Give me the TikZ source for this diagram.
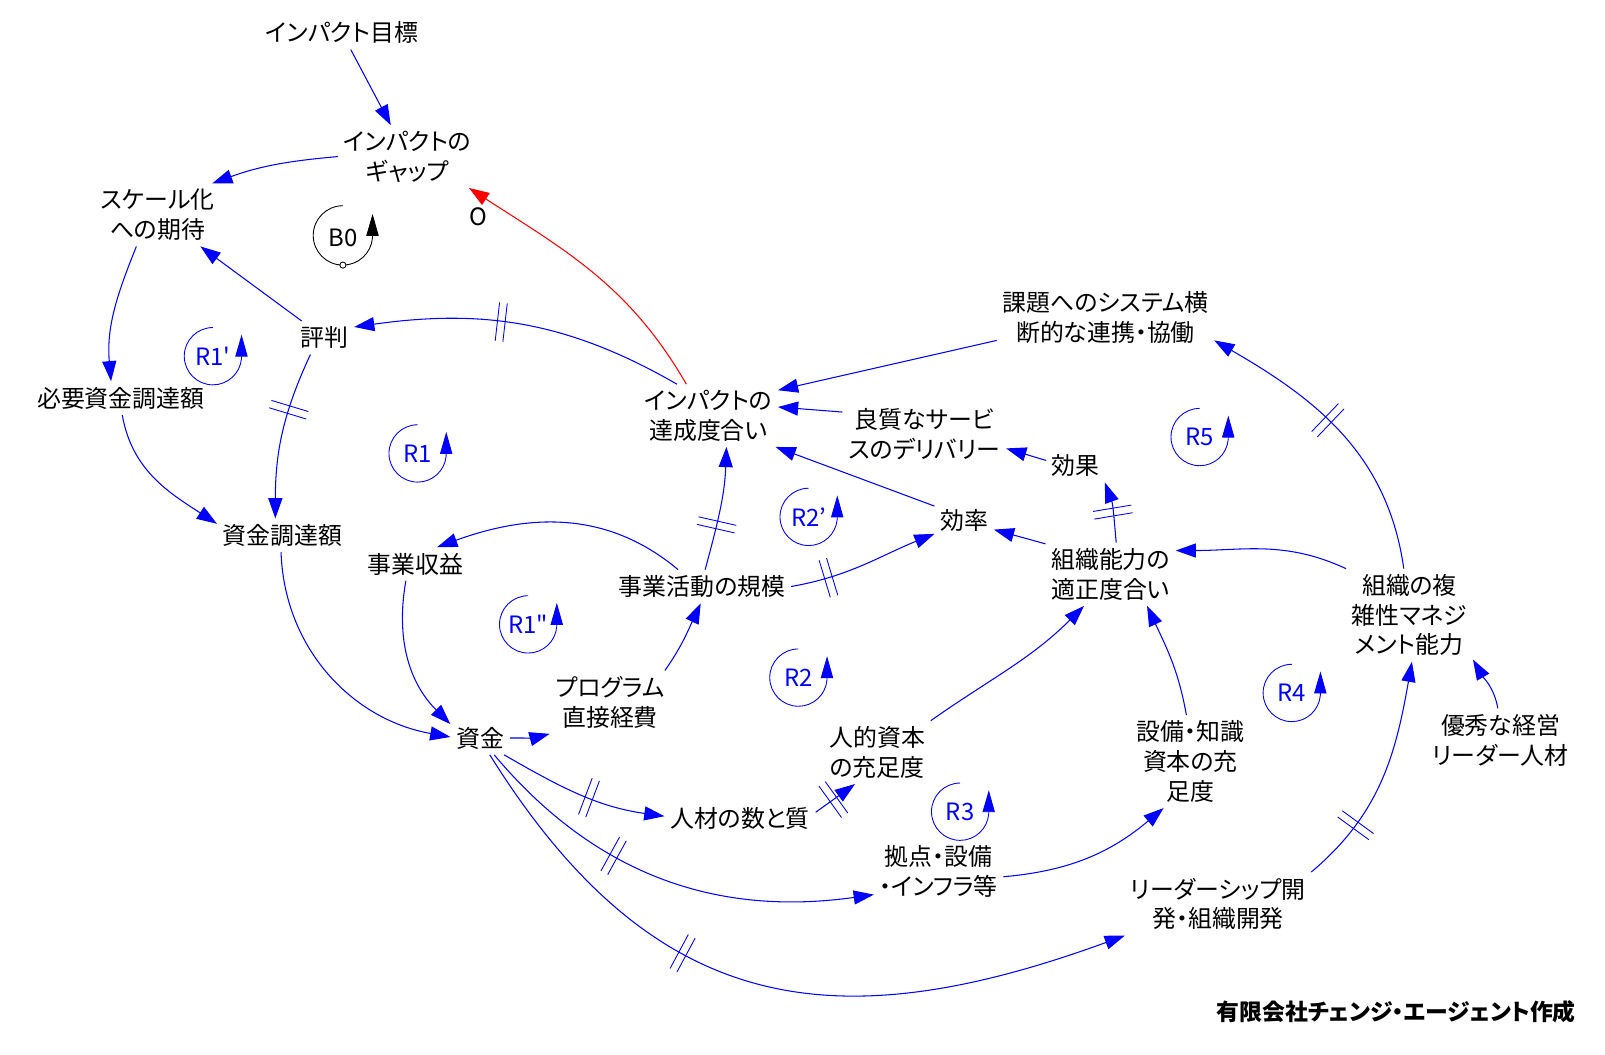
\documentclass[tikz,border=0pt]{standalone}
\usepackage{fontspec}
\newfontfamily\jp{Noto Sans CJK JP}[RawFeature=+palt]
\usetikzlibrary{arrows.meta,decorations.markings}
\newcommand\cldfont{\jp\fontsize{13.6pt}{16.9pt}\selectfont}

\begin{document}
\begin{tikzpicture}[
                    x=0.02047cm, y=0.02047cm,
                    ->,
                    >={Triangle[length=11.5pt,width=8pt]},
                    line width=0.6pt,
                    var/.style={font=\cldfont, align=center, inner sep=3pt},
                    every edge/.style={draw, blue},
                    delaymark/.style={postaction={decorate, decoration={markings,
                        mark=at position #1 with {\draw[-, line width=0.5pt] (-2.2pt,-11pt) -- (-2.2pt,11pt) (2.2pt,-11pt) -- (2.2pt,11pt);}}}},
                    looparrow/.style={blue, line width=0.5pt, -{Triangle[length=12.5pt,width=7pt]}},
                    looplbl/.style={font=\cldfont, text=blue, inner sep=0pt}
                ]
                \path[-, use as bounding box, fill=white] (0,0) rectangle (1568,1030);

                % variables
                \node[var] (target) at (334,998) {インパクト目標};
                \node[var] (gap) at (398,877) {インパクトの\\ギャップ};
                \node[var] (scale) at (154,820) {スケール化\\への期待};
                \node[var] (rep) at (317,700) {評判};
                \node[var] (need) at (118,641) {必要資金調達額};
                \node[var] (achieve) at (692,624) {インパクトの\\達成度合い};
                \node[var] (collab) at (1080,720) {課題へのシステム横\\断的な連携・協働};
                \node[var] (service) at (903,606) {良質なサービ\\スのデリバリー};
                \node[var] (effect) at (1051,575) {効果};
                \node[var] (effic) at (942,522) {効率};
                \node[var] (raise) at (276,507) {資金調達額};
                \node[var] (revenue) at (406,479) {事業収益};
                \node[var] (orgcap) at (1085,469) {組織能力の\\適正度合い};
                \node[var] (complex) at (1377,429) {組織の複\\雑性マネジ\\メント能力};
                \node[var] (activity) at (686,457) {事業活動の規模};
                \node[var] (program) at (596,344) {プログラム\\直接経費};
                \node[var] (leader) at (1466,307) {優秀な経営\\リーダー人材};
                \node[var] (funds) at (469,309) {資金};
                \node[var] (human) at (857,295) {人的資本\\の充足度};
                \node[var] (facility) at (1163,286) {設備・知識\\資本の充\\足度};
                \node[var] (staff) at (723,230) {人材の数と質};
                \node[var] (base) at (917,179) {拠点・設備\\・インフラ等};
                \node[var] (dev) at (1190,147) {リーダーシップ開\\発・組織開発};
                \node[var, font=\jp\fontsize{13pt}{16pt}\selectfont\bfseries] (credit) at (1364,42) {有限会社チェンジ・エージェント作成};
                \node[var] (pol) at (467,818) {O};

                % loops
                \node[font=\cldfont, inner sep=0pt] (b0) at (335,798) {B0};
                \draw[looparrow, black] (335,829) arc[start angle=90, end angle=355, x radius=29, y radius=29] -- (364,821);
                \draw[-, black, fill=white, line width=0.5pt] (335,771) circle[radius=3];
                \foreach \nm/\lbl/\cx/\cy in {r1a/{R1'}/208/682, r1/R1/408/587, r1b/{R1"}/516/420, r2a/{R2’}/790/525,
                                              r2/R2/780/368, r3/R3/938/237, r4/R4/1262/353, r5/R5/1172/603}
                {
                    \node[looplbl] (\nm) at (\cx,\cy) {\lbl};
                    \draw[looparrow] (\cx,\cy+28) arc[start angle=90, end angle=355, x radius=28, y radius=28] -- (\cx+28,\cy+21);
                }

                % links
                \path
                (target) edge (gap)
                (gap.west) edge[out=185, in=20] (scale.30)
                (rep) edge (scale)
                (scale.236) edge[out=248, in=95] (need.120)
                (need.-85) edge[out=-80, in=147] (raise.170)
                (rep.-130) edge[out=245, in=90, delaymark=0.35] (raise.113)
                (raise.-95) edge[out=-88, in=170] (funds.178)
                (revenue.-120) edge[out=260, in=135] (funds.155)
                (funds.east) edge[out=0, in=195] (program.south west)
                (program.30) edge[out=55, in=-115] (activity.-95)
                (activity.145) edge[out=140, in=20] (revenue.38)
                (activity.80) edge[out=75, in=-92, delaymark=0.37] (achieve.-60)
                (activity.east) edge[out=10, in=-158, delaymark=0.25] (effic.-155)
                (effic.155) edge (achieve.-25)
                (achieve.135) edge[out=150, in=8, delaymark=0.56] (rep.20)
                (achieve.125) edge[red, out=120, in=-33] (gap.-27)
                (collab.-168) edge (achieve.20)
                (service.165) edge (achieve.7)
                (effect.170) edge (service.-10)
                (orgcap.80) edge[out=95, in=-70, delaymark=0.5] (effect.-30)
                (orgcap.155) edge (effic.-18)
                (complex.north west) edge[out=155, in=0] (orgcap.20)
                (complex.97) edge[out=98, in=-30, delaymark=0.55] (collab.-12)
                (leader.95) edge[out=100, in=-60] (complex.-35)
                (dev.north east) edge[out=40, in=-100, delaymark=0.27] (complex.-87)
                (funds.-60) edge[out=-58, in=200, looseness=1.2, delaymark=0.38] (dev.south west)
                (funds.-50) edge[out=-50, in=188, delaymark=0.37] (base.-160)
                (funds.-35) edge[out=-30, in=172, delaymark=0.55] (staff.178)
                (staff.5) edge[delaymark=0.45] (human.-125)
                (human.north east) edge[out=35, in=-135] (orgcap.-130)
                (base.-5) edge[out=5, in=220] (facility.-120)
                (facility.95) edge[out=100, in=-65] (orgcap.-41)
                ;
            \end{tikzpicture}
\end{document}
